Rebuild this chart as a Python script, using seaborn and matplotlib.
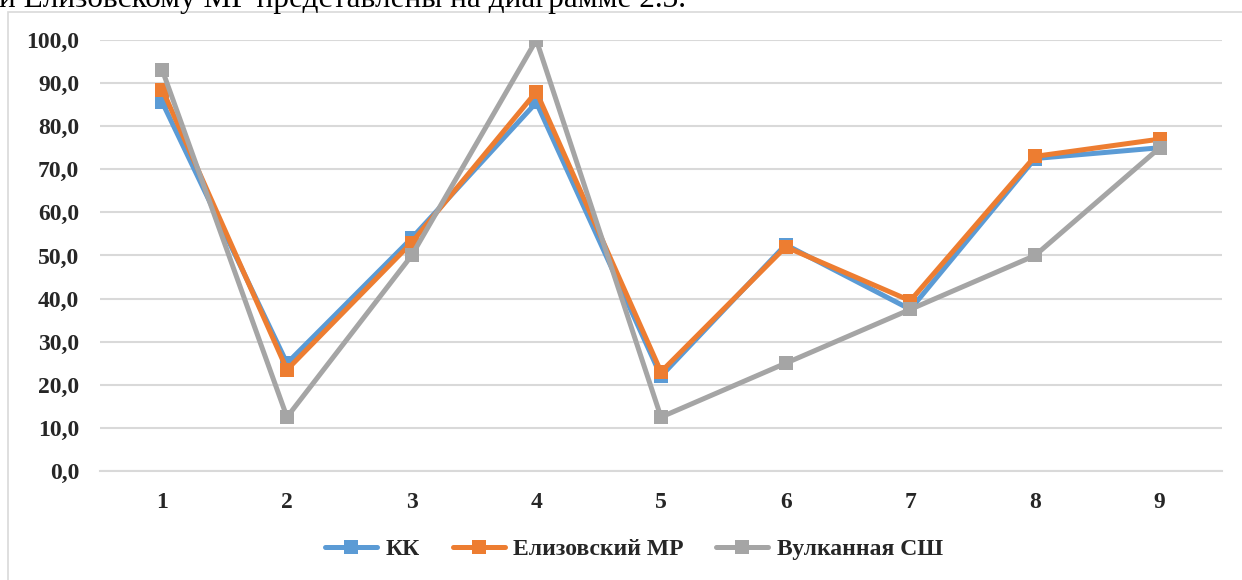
import matplotlib
matplotlib.use("Agg")
import matplotlib.pyplot as plt
import seaborn as sns
import pandas as pd
from matplotlib.patches import Rectangle
from matplotlib.lines import Line2D

categories = ["1", "2", "3", "4", "5", "6", "7", "8", "9"]
kk = [85.5, 25.0, 54.0, 85.5, 22.0, 52.5, 37.5, 72.5, 75.0]
elizovsky = [88.5, 23.5, 53.0, 88.0, 23.0, 52.0, 39.5, 73.0, 77.0]
vulkannaya = [93.0, 12.5, 50.0, 100.0, 12.5, 25.0, 37.5, 50.0, 75.0]
series_names = ["КК", "Елизовский МР", "Вулканная СШ"]
colors = ["#5B9BD5", "#ED7D31", "#A5A5A5"]
yticks = [0, 10, 20, 30, 40, 50, 60, 70, 80, 90, 100]

sns.set_theme(style="white")
plt.rcParams['font.family'] = ['Liberation Serif', 'DejaVu Serif']

rows = []
for name, vals in zip(series_names, [kk, elizovsky, vulkannaya]):
    for i, (c, v) in enumerate(zip(categories, vals)):
        rows.append({"pos": i, "cat": c, "val": v, "series": name})
df = pd.DataFrame(rows)

fig = plt.figure(figsize=(12.42, 5.8), dpi=100)
W, H = 1242, 580
ax = fig.add_axes([100 / W, 1 - 471 / H, (1222 - 100) / W, (471 - 40) / H])

# outer chart frame
fig.patches.append(Rectangle((7.5 / W, -0.1), 1.2, 1 - 12 / H + 0.1,
                             transform=fig.transFigure, fill=False,
                             edgecolor="#D9D9D9", linewidth=1.2, zorder=0))

# page text clipped at the top
fig.text(-0.001, 1 - 7 / H, "и Елизовскому МР представлены на диаграмме 2.3.",
         fontsize=22.5, va="baseline", ha="left", color="black")

sns.lineplot(data=df, x="pos", y="val", hue="series", palette=colors,
             hue_order=series_names, marker="s", markersize=10,
             markeredgewidth=0, linewidth=3.6, ax=ax, legend=False,
             sort=False)

ax.set_xlim(-0.5, 8.5)
ax.set_ylim(0, 100)
ax.set_yticks(yticks)
ax.set_yticklabels([f"{t},0" for t in yticks])
ax.set_xticks(range(len(categories)))
ax.set_xticklabels(categories)
for lbl in ax.get_xticklabels() + ax.get_yticklabels():
    lbl.set_fontweight("bold")
    lbl.set_fontsize(17)
ax.tick_params(axis="y", length=0, pad=15)
ax.tick_params(axis="x", length=0, pad=15)
ax.set_xlabel("")
ax.set_ylabel("")
ax.grid(axis="y", color="#D9D9D9", linewidth=1.5)
ax.set_axisbelow(True)
for s in ["top", "right", "left"]:
    ax.spines[s].set_visible(False)
ax.spines["bottom"].set_color("#D9D9D9")
ax.spines["bottom"].set_linewidth(1.5)
ax.patch.set_alpha(0)

handles = [Line2D([0], [0], color=c, linewidth=3.6, marker="s", markersize=10,
                  markeredgewidth=0, solid_capstyle="round") for c in colors]
leg = fig.legend(handles, series_names, loc="center", ncol=3,
                 bbox_to_anchor=(634 / W, 1 - 549 / H), frameon=False,
                 prop={"weight": "bold", "size": 17}, handlelength=2.2,
                 handletextpad=0.35, columnspacing=1.4)

fig.savefig("out.png", dpi=100)
